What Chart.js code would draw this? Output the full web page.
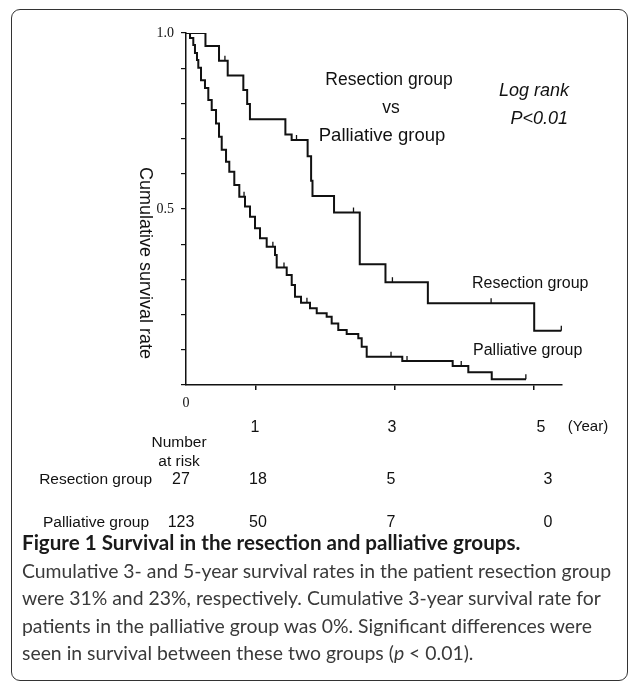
<!DOCTYPE html>
<html>
<head>
<meta charset="utf-8">
<script src="https://cdn.jsdelivr.net/npm/chart.js@4"></script>
<style>
  body { margin: 0; background: #fff; width: 636px; height: 689px; position: relative; overflow: hidden; }
  #frame { position: absolute; left: 11px; top: 9px; width: 615px; height: 670px; border: 1.5px solid #333; border-radius: 9px; }
  #km { position: absolute; left: 0; top: 0; }
  #caption { position: absolute; left: 22px; top: 529px; font-family: Lato, "Noto Sans", sans-serif; font-size: 19.4px; line-height: 27.5px; color: #3a3a3a; white-space: nowrap; }
  #caption .title { font-weight: bold; font-size: 20.6px; color: #1a1a1a; }
</style>
</head>
<body>
<div id="frame"></div>
<canvas id="km" width="636" height="530"></canvas>
<div id="caption">
  <div class="title">Figure 1 Survival in the resection and palliative groups.</div>
  <div>Cumulative 3- and 5-year survival rates in the patient resection group</div>
  <div>were 31% and 23%, respectively. Cumulative 3-year survival rate for</div>
  <div>patients in the palliative group was 0%. Significant differences were</div>
  <div>seen in survival between these two groups (<i>p</i> &lt; 0.01).</div>
</div>
<script>
// Kaplan-Meier steps (years, survival)
const resectionTimes = [0, 0.28, 0.475, 0.60, 0.825, 0.88, 0.92, 1.43, 1.52, 1.75, 1.80, 1.82, 2.13, 2.50, 2.87, 3.48, 5.01, 5.40];
const resectionSurv  = [1, 0.963, 0.921, 0.879, 0.838, 0.798, 0.755, 0.712, 0.696, 0.650, 0.580, 0.537, 0.490, 0.343, 0.292, 0.232, 0.154, 0.154];
const resectionCensor = [0.56, 1.59, 2.41, 2.97, 4.39, 5.40];

const palliativeTimes = [0, 0.058, 0.105, 0.129, 0.158, 0.177, 0.216, 0.273, 0.321, 0.370, 0.432, 0.475, 0.514, 0.576, 0.623, 0.695, 0.767, 0.849, 0.921, 0.993, 1.065, 1.161, 1.281, 1.305, 1.449, 1.521, 1.568, 1.655, 1.784, 1.881, 2.024, 2.096, 2.191, 2.312, 2.479, 2.528, 2.600, 3.112, 3.837, 4.062, 4.399, 4.892];
const palliativeSurv  = [1, 0.986, 0.966, 0.943, 0.923, 0.901, 0.866, 0.844, 0.810, 0.781, 0.743, 0.705, 0.668, 0.634, 0.606, 0.568, 0.535, 0.507, 0.478, 0.445, 0.417, 0.393, 0.369, 0.334, 0.3125, 0.284, 0.251, 0.234, 0.218, 0.204, 0.194, 0.175, 0.156, 0.145, 0.133, 0.109, 0.080, 0.068, 0.054, 0.036, 0.016, 0.016];
const palliativeCensor = [0.835, 1.065, 1.25, 1.41, 1.74, 2.95, 3.18, 3.96, 4.89];

const xTickValues = [1, 3, 5];
const yLabelValues = [0.5, 1.0];

// number at risk table
const riskGroups = ['Resection group', 'Palliative group'];
const riskResection = [27, 18, 5, 3];
const riskPalliative = [123, 50, 7, 0];

const INK = '#111';

function stepValue(times, surv, t) {
    let v = surv[0];
    for (let i = 0; i < times.length; i++) {
        if (times[i] <= t) v = surv[i];
    }
    return v;
}

const censorSets = [
    { times: resectionTimes, surv: resectionSurv, censor: resectionCensor },
    { times: palliativeTimes, surv: palliativeSurv, censor: palliativeCensor }
];

const decorPlugin = {
    id: 'decor',
    afterDatasetsDraw(chart) {
        const ctx = chart.ctx;
        const xs = chart.scales.x, ys = chart.scales.y;
        ctx.save();

        // censor marks
        ctx.strokeStyle = INK;
        ctx.lineWidth = 1.3;
        censorSets.forEach(set => {
            set.censor.forEach(t => {
                const px = xs.getPixelForValue(t);
                const py = ys.getPixelForValue(stepValue(set.times, set.surv, t));
                ctx.beginPath();
                ctx.moveTo(px, py);
                ctx.lineTo(px, py - 5);
                ctx.stroke();
            });
        });

        ctx.fillStyle = INK;
        ctx.textAlign = 'center';
        ctx.textBaseline = 'middle';

        // origin label
        ctx.font = '14px "Liberation Serif", serif';
        ctx.fillText('0', xs.getPixelForValue(0), 403);

        // year labels
        ctx.font = '16px "Liberation Sans", Arial, sans-serif';
        const yearX = [255, 392, 541];
        xTickValues.forEach((v, i) => ctx.fillText(String(v), yearX[i], 428));
        ctx.font = '15px "Liberation Sans", Arial, sans-serif';
        ctx.fillText('(Year)', 588, 427);

        // number at risk
        ctx.font = '15.5px "Liberation Sans", Arial, sans-serif';
        ctx.fillText('Number', 179, 443);
        ctx.fillText('at risk', 179, 462);
        const riskX = [181, 258, 391, 548];
        ctx.textAlign = 'right';
        ctx.fillText(riskGroups[0], 152, 480);
        ctx.fillText(riskGroups[1], 149, 523);
        ctx.textAlign = 'center';
        ctx.font = '16px "Liberation Sans", Arial, sans-serif';
        riskResection.forEach((n, i) => ctx.fillText(String(n), riskX[i], 480));
        riskPalliative.forEach((n, i) => ctx.fillText(String(n), riskX[i], 523));

        // in-plot annotations
        ctx.font = '17.5px "Liberation Sans", Arial, sans-serif';
        ctx.fillText('Resection group', 389, 80);
        ctx.fillText('vs', 391, 108);
        ctx.save();
        ctx.font = '18.5px "Liberation Sans", Arial, sans-serif';
        ctx.fillText('Palliative group', 382, 136);
        ctx.restore();

        ctx.font = 'italic 18px "Liberation Sans", Arial, sans-serif';
        ctx.textAlign = 'right';
        ctx.fillText('Log rank', 569, 91);
        ctx.fillText('P<0.01', 568, 119);

        ctx.textAlign = 'left';
        ctx.font = '16px "Liberation Sans", Arial, sans-serif';
        ctx.fillText('Resection group', 472, 284);
        ctx.fillText('Palliative group', 473, 351);

        // y axis title, reading top to bottom
        ctx.save();
        ctx.translate(145, 263);
        ctx.rotate(Math.PI / 2);
        ctx.textAlign = 'center';
        ctx.font = '18px "Liberation Sans", Arial, sans-serif';
        ctx.fillText('Cumulative survival rate', 0, 0);
        ctx.restore();

        ctx.restore();
    }
};

new Chart(document.getElementById('km').getContext('2d'), {
    type: 'line',
    data: {
        datasets: [
            {
                label: 'Resection group',
                data: resectionTimes.map((t, i) => ({ x: t, y: resectionSurv[i] })),
                stepped: true,
                borderColor: INK,
                borderWidth: 2,
                pointRadius: 0,
                fill: false
            },
            {
                label: 'Palliative group',
                data: palliativeTimes.map((t, i) => ({ x: t, y: palliativeSurv[i] })),
                stepped: true,
                borderColor: INK,
                borderWidth: 2,
                pointRadius: 0,
                fill: false
            }
        ]
    },
    options: {
        responsive: false,
        animation: false,
        layout: { padding: { left: 0, top: 33, right: 74, bottom: 135 } },
        plugins: {
            legend: { display: false },
            tooltip: { enabled: false }
        },
        scales: {
            x: {
                type: 'linear',
                min: 0,
                max: 5.41,
                afterBuildTicks: s => { s.ticks = xTickValues.map(v => ({ value: v })); },
                afterFit: s => { s.height = 10; },
                ticks: { display: false },
                grid: { drawOnChartArea: false, drawTicks: true, tickLength: 5, color: INK, lineWidth: 1.5 },
                border: { color: INK, width: 1.5 }
            },
            y: {
                min: 0,
                max: 1,
                afterFit: s => { s.width = 186; },
                ticks: {
                    stepSize: 0.1,
                    color: INK,
                    padding: 7,
                    font: { family: '"Liberation Serif", serif', size: 14 },
                    callback: v => {
                        const hit = yLabelValues.find(l => Math.abs(l - v) < 1e-6);
                        return hit === undefined ? '' : hit.toFixed(1);
                    }
                },
                grid: { drawOnChartArea: false, drawTicks: true, tickLength: 5, color: INK, lineWidth: 1.2 },
                border: { color: INK, width: 1.5 }
            }
        }
    },
    plugins: [decorPlugin]
});
</script>
</body>
</html>
